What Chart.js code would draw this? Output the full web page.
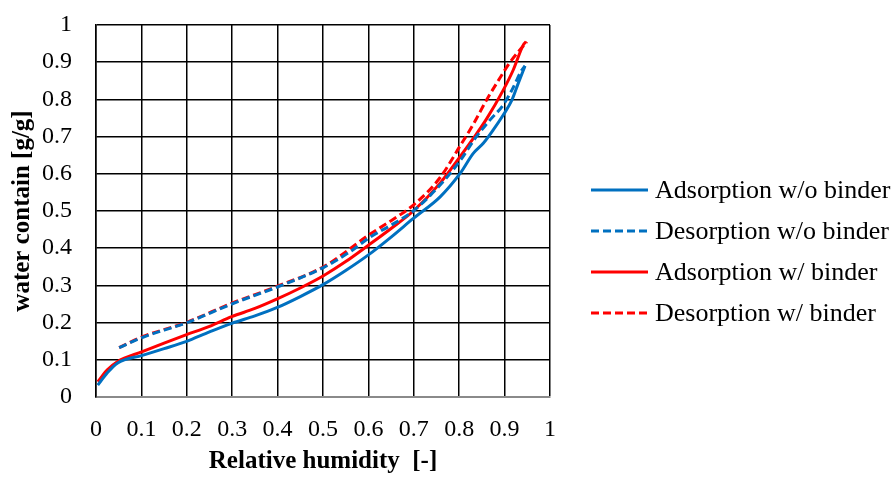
<!DOCTYPE html>
<html>
<head>
<meta charset="utf-8">
<script src="https://cdn.jsdelivr.net/npm/chart.js@4/dist/chart.umd.min.js"></script>
<style>
  html, body { margin: 0; padding: 0; background: #fff; }
  #wrap { width: 894px; height: 477px; }
</style>
</head>
<body>
<div id="wrap"><canvas id="isoChart" width="894" height="477"></canvas></div>
<script>
// relative humidity [-] / water content [g/g] per curve
var rhAdsWo = [0.004, 0.025, 0.047, 0.102, 0.15, 0.198, 0.25, 0.299, 0.35, 0.398, 0.45, 0.5, 0.55, 0.6, 0.65, 0.699, 0.758, 0.802, 0.831, 0.853, 0.875, 0.897, 0.916, 0.93, 0.945];
var wcAdsWo = [0.032, 0.065, 0.091, 0.112, 0.13, 0.149, 0.175, 0.198, 0.218, 0.24, 0.27, 0.302, 0.34, 0.382, 0.43, 0.48, 0.538, 0.601, 0.655, 0.682, 0.718, 0.758, 0.798, 0.843, 0.89];

var rhDesWo = [0.051, 0.102, 0.198, 0.299, 0.398, 0.501, 0.559, 0.604, 0.65, 0.699, 0.758, 0.802, 0.835, 0.868, 0.897, 0.916, 0.938, 0.945];
var wcDesWo = [0.133, 0.16, 0.199, 0.25, 0.295, 0.348, 0.39, 0.43, 0.462, 0.5, 0.57, 0.635, 0.695, 0.745, 0.785, 0.825, 0.879, 0.89];

var rhAdsW = [0.004, 0.025, 0.047, 0.102, 0.15, 0.198, 0.25, 0.299, 0.35, 0.398, 0.45, 0.501, 0.55, 0.6, 0.65, 0.699, 0.758, 0.802, 0.831, 0.861, 0.897, 0.919, 0.941, 0.947];
var wcAdsW = [0.041, 0.073, 0.095, 0.122, 0.145, 0.167, 0.19, 0.216, 0.238, 0.263, 0.293, 0.326, 0.364, 0.408, 0.453, 0.5, 0.575, 0.646, 0.695, 0.749, 0.825, 0.879, 0.946, 0.955];

var rhDesW = [0.051, 0.102, 0.198, 0.299, 0.398, 0.501, 0.55, 0.6, 0.65, 0.699, 0.758, 0.802, 0.831, 0.861, 0.89, 0.912, 0.949];
var wcDesW = [0.133, 0.162, 0.2, 0.252, 0.297, 0.35, 0.39, 0.435, 0.474, 0.516, 0.59, 0.675, 0.733, 0.8, 0.858, 0.9, 0.955];

var seriesNames = ["Adsorption w/o binder", "Desorption w/o binder", "Adsorption w/ binder", "Desorption w/ binder"];
var xTickLabels = ["0", "0.1", "0.2", "0.3", "0.4", "0.5", "0.6", "0.7", "0.8", "0.9", "1"];
var yTickLabels = ["0", "0.1", "0.2", "0.3", "0.4", "0.5", "0.6", "0.7", "0.8", "0.9", "1"];

var BLUE = "#0070C0";
var RED = "#FF0000";
var SERIF = "'Liberation Serif', 'Times New Roman', serif";

function toPoints(xs, ys) {
  return xs.map(function (x, i) { return { x: x, y: ys[i] }; });
}

function lineSet(label, xs, ys, color, dashed) {
  return {
    label: label,
    data: toPoints(xs, ys),
    borderColor: color,
    backgroundColor: color,
    borderWidth: 3,
    borderDash: dashed ? [8, 4] : [],
    pointRadius: 0,
    cubicInterpolationMode: "monotone",
    fill: false
  };
}

// legend drawn at the right, one row per dataset
var sideLegend = {
  id: "sideLegend",
  afterDraw: function (chart, args, opts) {
    var ctx = chart.ctx;
    ctx.save();
    ctx.font = opts.fontSize + "px " + SERIF;
    ctx.textBaseline = "middle";
    ctx.fillStyle = "#000";
    chart.data.datasets.forEach(function (ds, i) {
      var y = opts.top + i * opts.rowGap;
      ctx.beginPath();
      ctx.strokeStyle = ds.borderColor;
      ctx.lineWidth = ds.borderWidth;
      ctx.setLineDash(ds.borderDash);
      ctx.moveTo(opts.lineX, y);
      ctx.lineTo(opts.lineX + opts.lineLen, y);
      ctx.stroke();
      ctx.setLineDash([]);
      ctx.fillText(ds.label, opts.textX, y + 1);
    });
    ctx.restore();
  }
};

var ctx = document.getElementById("isoChart").getContext("2d");
var isoChart = new Chart(ctx, {
  type: "line",
  data: {
    datasets: [
      lineSet(seriesNames[0], rhAdsWo, wcAdsWo, BLUE, false),
      lineSet(seriesNames[1], rhDesWo, wcDesWo, BLUE, true),
      lineSet(seriesNames[2], rhAdsW, wcAdsW, RED, false),
      lineSet(seriesNames[3], rhDesW, wcDesW, RED, true)
    ]
  },
  plugins: [sideLegend],
  options: {
    responsive: false,
    animation: false,
    layout: { padding: { left: 0, top: 25, right: 344, bottom: 0 } },
    plugins: {
      legend: { display: false },
      tooltip: { enabled: false },
      sideLegend: { top: 190, rowGap: 41, lineX: 591, lineLen: 57, textX: 655, fontSize: 26 }
    },
    scales: {
      x: {
        type: "linear",
        min: 0,
        max: 1,
        afterFit: function (scale) {
          scale.height = 80;
          scale.paddingLeft = 0;
          scale.paddingRight = 0;
        },
        afterBuildTicks: function (scale) {
          scale.ticks = xTickLabels.map(function (t) { return { value: parseFloat(t) }; });
        },
        ticks: {
          padding: 18,
          color: "#000",
          maxRotation: 0,
          font: { family: SERIF, size: 24 },
          callback: function (v, i) { return xTickLabels[i]; }
        },
        grid: { color: "#000", lineWidth: 1.5, drawTicks: false },
        border: { display: true, color: "#8a8a8a", width: 2 },
        title: {
          display: true,
          text: "Relative humidity  [-]",
          color: "#000",
          font: { family: SERIF, size: 25, weight: "bold" },
          padding: { top: 0, bottom: 0 }
        }
      },
      y: {
        type: "linear",
        min: 0,
        max: 1,
        afterFit: function (scale) {
          scale.width = 96;
          scale.paddingTop = 0;
          scale.paddingBottom = 0;
        },
        afterBuildTicks: function (scale) {
          scale.ticks = yTickLabels.map(function (t) { return { value: parseFloat(t) }; });
        },
        ticks: {
          padding: 24,
          color: "#000",
          font: { family: SERIF, size: 24 },
          callback: function (v, i) { return yTickLabels[i]; }
        },
        grid: {
          drawTicks: false,
          lineWidth: 1.5,
          color: function (c) { return c.tick && c.tick.value === 0 ? "#8a8a8a" : "#000"; }
        },
        border: { display: true, color: "#000", width: 1.5 },
        title: {
          display: true,
          text: "water contain [g/g]",
          color: "#000",
          font: { family: SERIF, size: 25, weight: "bold" },
          padding: { top: 8, bottom: 0 }
        }
      }
    }
  }
});
</script>
</body>
</html>
